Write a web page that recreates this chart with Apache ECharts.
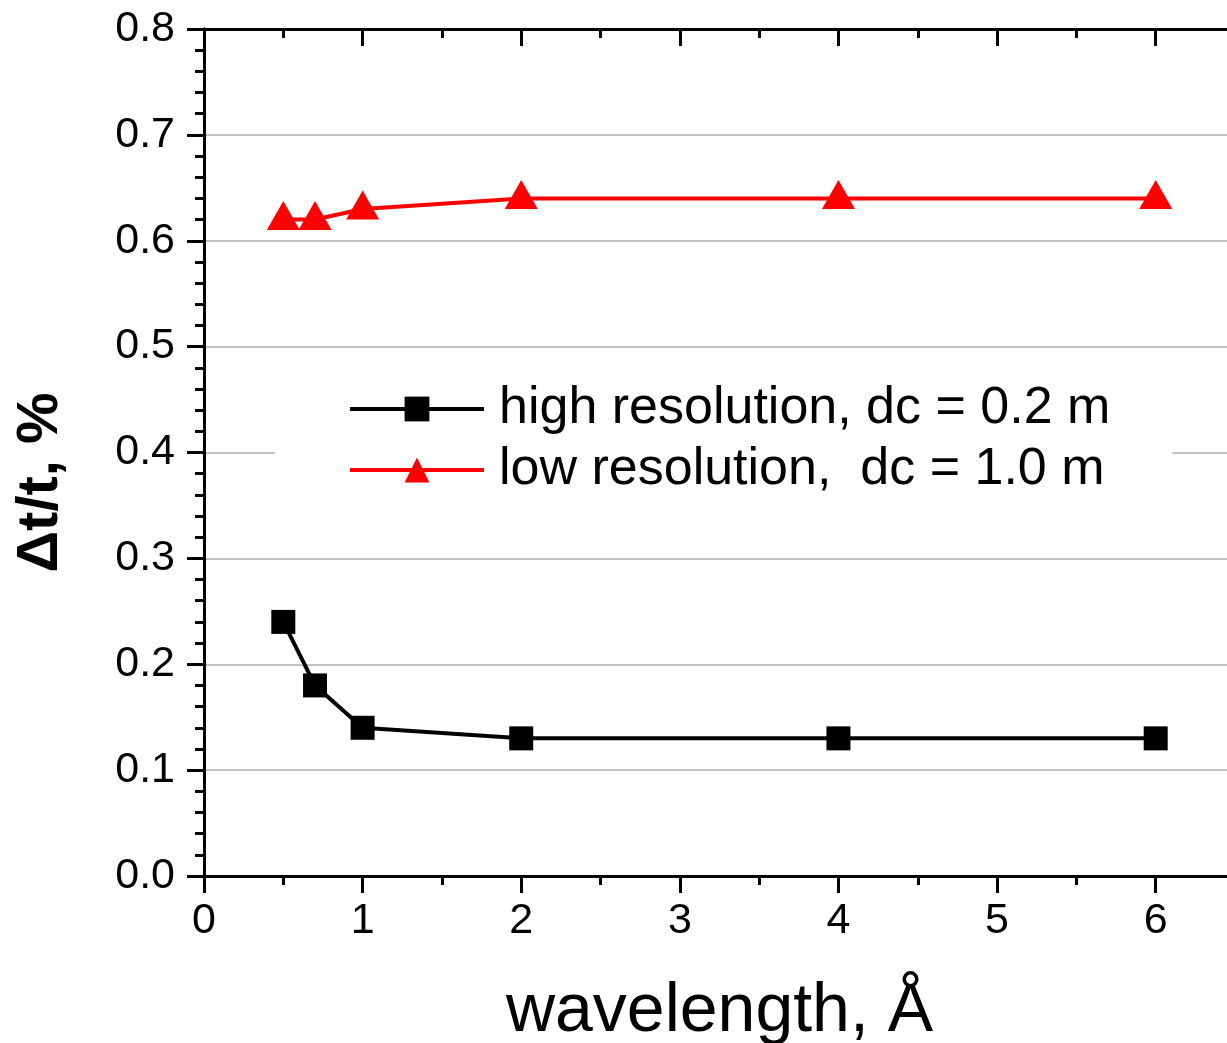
<!DOCTYPE html>
<html>
<head>
<meta charset="utf-8">
<script src="https://cdn.jsdelivr.net/npm/echarts@6/dist/echarts.min.js"></script>
<style>html,body{margin:0;padding:0;background:#fff;}#c{width:1227px;height:1043px;}</style>
</head>
<body>
<div id="c"></div>
<script>
const wavelengths = [0.5, 0.7, 1, 2, 4, 6];
const highRes = [0.24, 0.18, 0.14, 0.13, 0.13, 0.13];
const lowRes = [0.62, 0.62, 0.63, 0.64, 0.64, 0.64];
const seriesNames = ['high resolution, dc = 0.2 m', 'low resolution,  dc = 1.0 m'];
const xTitle = 'wavelength, Å';
const yTitle = 'Δt/t, %';

const FONT = '"Liberation Sans", Arial, sans-serif';
const chart = echarts.init(document.getElementById('c'), null, {renderer: 'canvas'});

const axisLine = {show: true, lineStyle: {color: '#000', width: 3}};
const majorTick = (inside) => ({show: true, inside: inside, length: 17, lineStyle: {color: '#000', width: 3}});
const minorTickX = (inside) => ({show: true, inside: inside, length: 9, lineStyle: {color: '#000', width: 3}});

const option = {
  animation: false,
  backgroundColor: '#fff',
  grid: {left: 204, top: 29, right: -8, bottom: 167, containLabel: false, outerBoundsMode: 'none'},
  xAxis: [
    {
      type: 'value', position: 'bottom', min: 0, max: 6.5, interval: 1,
      axisLine: axisLine, axisTick: majorTick(false),
      axisLabel: {fontSize: 43, color: '#000', fontFamily: FONT, margin: 24,
        formatter: v => (Number.isInteger(v) ? String(v) : '')},
      splitLine: {show: false},
      name: xTitle, nameLocation: 'middle', nameGap: 102,
      nameTextStyle: {fontSize: 68, color: '#000', fontFamily: FONT}
    },
    {
      type: 'value', position: 'bottom', min: 0, max: 6.5, interval: 0.5,
      axisLine: {show: false}, axisTick: minorTickX(false),
      axisLabel: {show: false}, splitLine: {show: false}
    },
    {
      type: 'value', position: 'top', min: 0, max: 6.5, interval: 1,
      axisLine: axisLine, axisTick: majorTick(true),
      axisLabel: {show: false}, splitLine: {show: false}
    },
    {
      type: 'value', position: 'top', min: 0, max: 6.5, interval: 0.5,
      axisLine: {show: false}, axisTick: minorTickX(true),
      axisLabel: {show: false}, splitLine: {show: false}
    }
  ],
  yAxis: [
    {
      type: 'value', position: 'left', min: 0, max: 0.8, interval: 0.1,
      axisLine: axisLine, axisTick: majorTick(false),
      minorTick: {show: true, splitNumber: 5, length: 9, lineStyle: {color: '#000', width: 3}},
      axisLabel: {fontSize: 43, color: '#000', fontFamily: FONT, margin: 29,
        formatter: v => v.toFixed(1)},
      splitLine: {show: true, lineStyle: {color: '#c4c4c4', width: 2}},
      name: yTitle, nameLocation: 'middle', nameGap: 134, nameRotate: 90,
      nameTextStyle: {fontSize: 58, fontWeight: 'bold', color: '#000', fontFamily: FONT, padding: [0, 60, 0, 0]}
    },
    {
      type: 'value', position: 'right', min: 0, max: 0.8, interval: 0.1,
      axisLine: axisLine, axisTick: majorTick(true),
      minorTick: {show: true, splitNumber: 5, length: 9, lineStyle: {color: '#000', width: 3}},
      axisLabel: {show: false}, splitLine: {show: false}
    }
  ],
  legend: {
    orient: 'vertical', left: 275, top: 363,
    backgroundColor: '#fff',
    padding: [18, 62, 18, 73],
    itemWidth: 134, itemHeight: 31, itemGap: 5,
    lineStyle: {width: 4},
    textStyle: {fontSize: 52, lineHeight: 56, color: '#000', fontFamily: FONT, padding: [0, 0, 0, 10]},
    data: seriesNames
  },
  series: [
    {
      name: seriesNames[0], type: 'line',
      xAxisIndex: 0, yAxisIndex: 0,
      data: wavelengths.map((x, i) => [x, highRes[i]]),
      symbol: 'rect', symbolSize: 24,
      lineStyle: {color: '#000', width: 4},
      itemStyle: {color: '#000'}
    },
    {
      name: seriesNames[1], type: 'line',
      xAxisIndex: 0, yAxisIndex: 0,
      data: wavelengths.map((x, i) => [x, lowRes[i]]),
      symbol: 'triangle', symbolSize: [33, 29], symbolOffset: [0, -4],
      lineStyle: {color: '#ff0000', width: 4},
      itemStyle: {color: '#ff0000'}
    }
  ]
};
chart.setOption(option);
</script>
</body>
</html>
